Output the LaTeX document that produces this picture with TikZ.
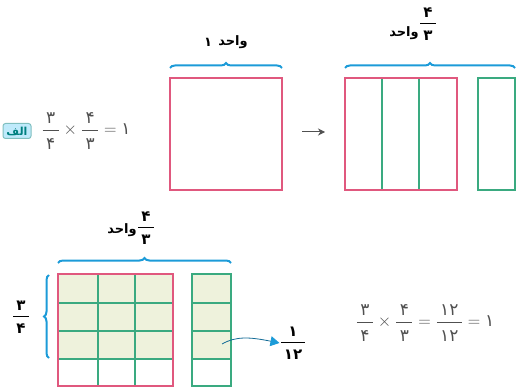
\documentclass[tikz,border=0pt]{standalone}
\usepackage{fontspec}
\usetikzlibrary{decorations.pathreplacing,arrows.meta}
\TeXXeTstate=1
\newfontfamily\pfont[Script=Arabic]{DejaVu Sans}
\newcommand\pd[1]{\mbox{\pfont #1}}
\newcommand\pfr[2]{{\displaystyle\frac{\hspace{0.2em}\pd{#1}\rule[-0.32em]{0pt}{0.32em}\hspace{0.2em}}{\hspace{0.2em}\rule{0pt}{1.05em}\pd{#2}\hspace{0.2em}}}}
\definecolor{pinkc}{HTML}{E0587E}
\definecolor{greenc}{HTML}{3AAA80}
\definecolor{bluec}{HTML}{1C9BD8}
\definecolor{fillc}{HTML}{EEF2DC}
\definecolor{eqc}{HTML}{505050}
\begin{document}
\begin{tikzpicture}[x=1pt,y=-1pt,
  pinkbox/.style={draw=pinkc,line width=1.8pt},
  greenln/.style={draw=greenc,line width=1.8pt},
  bracec/.style={draw=bluec,line width=2pt,decorate,decoration={brace,amplitude=5pt}},
  word/.style={font=\pfont\bfseries\fontsize{13}{15}\selectfont,inner sep=0pt},
  frac/.style={font=\fontsize{17}{20}\selectfont,inner sep=0pt,text=eqc},
  lfrac/.style={font=\bfseries\fontsize{15}{18}\selectfont,inner sep=0pt}]
\useasboundingbox (0,0) rectangle (518,387);
% badge
\node[draw=teal!50,fill=cyan!25,rounded corners=2.5pt,line width=1pt,minimum width=28pt,minimum height=15pt,inner sep=0pt,
  font=\pfont\bfseries\fontsize{11}{12}\selectfont,text=teal] (badge) at (17,131) {\beginR الف\endR};
% top equation
\node[frac] (eq1) at (86,131) {$\pfr{۳}{۴}\times\pfr{۴}{۳}=\pd{۱}$};
% first rectangle
\draw[pinkbox] (170,78) rectangle (282,190);
\coordinate (b1l) at (170,68); \coordinate (b1r) at (282,68);
\draw[bracec] (b1l) -- (b1r);
\node[word] (lab1n) at (208,42) {۱};
\node[word] (lab1) at (233,42) {\beginR واحد\endR};
% arrow
\coordinate (arrs) at (302,132); \coordinate (arre) at (325,132);
\draw[-{Stealth[length=7pt,width=7pt]},line width=1pt,eqc] (arrs) -- (arre);
% second group
\draw[greenln] (382,78) -- (382,190);
\draw[greenln] (419,78) -- (419,190);
\draw[pinkbox] (345,78) rectangle (457,190);
\draw[greenln] (478,78) rectangle (515,190);
\coordinate (b2l) at (345,68); \coordinate (b2r) at (515,68);
\draw[bracec] (b2l) -- (b2r);
\node[word] (w2) at (404,33) {\beginR واحد\endR};
\node[lfrac] (f2) at (428,24) {$\pfr{۴}{۳}$};
% bottom grid
\fill[fillc] (58,274) rectangle (173,359);
\fill[fillc] (192,274) rectangle (231,359);
\foreach \x in {98,135} \draw[greenln] (\x,274) -- (\x,386);
\foreach \y in {303,331,359} {\draw[greenln] (58,\y) -- (173,\y); \draw[greenln] (192,\y) -- (231,\y);}
\draw[pinkbox] (58,274) rectangle (173,386);
\draw[greenln] (192,274) rectangle (231,386);
\coordinate (b3l) at (58,263); \coordinate (b3r) at (231,263);
\draw[bracec] (b3l) -- (b3r);
\node[word] (w3) at (122,230) {\beginR واحد\endR};
\node[lfrac] (f3) at (146,228) {$\pfr{۴}{۳}$};
\coordinate (b4b) at (49,358); \coordinate (b4t) at (49,275);
\draw[bracec] (b4b) -- (b4t);
\node[lfrac] (f4) at (21,317) {$\pfr{۳}{۴}$};
% curved arrow
\node[lfrac] (f5) at (293,343) {$\pfr{۱}{۱۲}$};
\coordinate (cs) at (222,344);
\draw[bluec!70!black,line width=0.8pt,-{Triangle[length=9pt,width=10pt,color=bluec]}] (cs) .. controls (236,336) and (250,337) .. (f5.west);
% bottom equation
\node[frac] (eq2) at (425,323) {$\pfr{۳}{۴}\times\pfr{۴}{۳}=\pfr{۱۲}{۱۲}=\pd{۱}$};
\end{tikzpicture}
\end{document}
